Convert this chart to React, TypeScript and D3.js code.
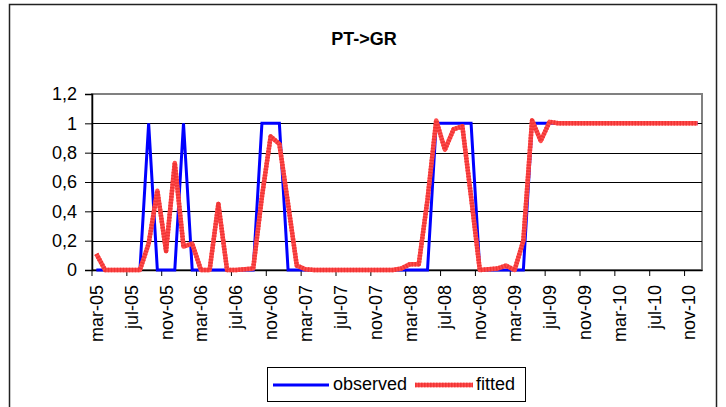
import { useEffect, useRef } from "react";
import * as d3 from "d3";

const W = 726;
const H = 407;
const PLOT = { left: 92, right: 702, top: 94, bottom: 270 };
const FONT = "'Liberation Sans', Arial, sans-serif";

const monthNames = ["jan", "feb", "mar", "apr", "may", "jun", "jul", "aug", "sep", "oct", "nov", "dec"];
const years = ["05", "06", "07", "08", "09", "10"];
// mar-05 .. dec-10
const months: string[] = years
  .flatMap((yy) => monthNames.map((m) => `${m}-${yy}`))
  .slice(2);

const observed = [
  0, 0, 0, 0, 0, 0, 1, 0, 0, 0,
  1, 0, 0, 0, 0, 0, 0, 0, 0, 1,
  1, 1, 0, 0, 0, 0, 0, 0, 0, 0,
  0, 0, 0, 0, 0, 0, 0, 0, 0, 1,
  1, 1, 1, 1, 0, 0, 0, 0, 0, 0,
  1, 1, 1, 1, 1, 1, 1, 1, 1, 1,
  1, 1, 1, 1, 1, 1, 1, 1, 1, 1,
];

const fitted = [
  0.11, 0, 0, 0, 0, 0, 0.18, 0.54, 0.13, 0.73,
  0.16, 0.18, 0, 0, 0.45, 0, 0, 0.005, 0.01, 0.5,
  0.91, 0.86, 0.45, 0.03, 0.005, 0, 0, 0, 0, 0,
  0, 0, 0, 0, 0, 0.01, 0.04, 0.04, 0.48, 1.02,
  0.82, 0.96, 0.98, 0.5, 0, 0.005, 0.01, 0.03, 0, 0.2,
  1.02, 0.88, 1.01, 1, 1, 1, 1, 1, 1, 1,
  1, 1, 1, 1, 1, 1, 1, 1, 1, 1,
];

const yTicks = [0, 0.2, 0.4, 0.6, 0.8, 1, 1.2];

const App = () => {
  const svgRef = useRef<SVGSVGElement | null>(null);

  useEffect(() => {
    const svg = d3.select(svgRef.current);
    svg.selectAll("*").remove();

    const x = d3.scaleBand().domain(months).range([PLOT.left, PLOT.right]);
    const y = d3.scaleLinear().domain([0, 1.2]).range([PLOT.bottom, PLOT.top]);
    const cx = (i: number) => (x(months[i]) as number) + x.bandwidth() / 2;

    // chart frame
    svg
      .append("rect")
      .attr("x", 9.5)
      .attr("y", 4.5)
      .attr("width", 707)
      .attr("height", 410)
      .attr("fill", "#fff")
      .attr("stroke", "#222")
      .attr("stroke-width", 1.5);

    svg
      .append("text")
      .attr("x", 364)
      .attr("y", 45)
      .attr("text-anchor", "middle")
      .attr("font-family", FONT)
      .attr("font-weight", "bold")
      .attr("font-size", 18)
      .text("PT->GR");

    // plot area border (grey top / right)
    svg
      .append("rect")
      .attr("x", PLOT.left)
      .attr("y", PLOT.top)
      .attr("width", PLOT.right - PLOT.left)
      .attr("height", PLOT.bottom - PLOT.top)
      .attr("fill", "none")
      .attr("stroke", "#808080")
      .attr("stroke-width", 2);

    // gridlines
    svg
      .append("g")
      .selectAll("line")
      .data(yTicks.filter((t) => t > 0 && t < 1.2))
      .join("line")
      .attr("x1", PLOT.left)
      .attr("x2", PLOT.right)
      .attr("y1", (d) => Math.round(y(d)) + 0.5)
      .attr("y2", (d) => Math.round(y(d)) + 0.5)
      .attr("stroke", "#000")
      .attr("stroke-width", 1);

    // y axis
    const yAxis = svg
      .append("g")
      .attr("transform", `translate(${PLOT.left},0)`)
      .call(
        d3
          .axisLeft(y)
          .tickValues(yTicks)
          .tickSize(7)
          .tickPadding(8)
          .tickFormat((d) => String(+d).replace(".", ","))
      );
    yAxis.select(".domain").attr("stroke", "#000").attr("stroke-width", 1.5);
    yAxis.selectAll(".tick line").attr("stroke", "#000");
    yAxis
      .selectAll("text")
      .attr("font-family", FONT)
      .attr("font-size", 18)
      .attr("fill", "#000");

    // x axis: labels every 4 months, tick marks at category boundaries
    const labelCats = months.filter((_, i) => i % 4 === 0);
    const xAxis = svg
      .append("g")
      .attr("transform", `translate(0,${PLOT.bottom})`)
      .call(d3.axisBottom(x).tickValues(labelCats).tickSize(0));
    xAxis.select(".domain").attr("stroke", "#000").attr("stroke-width", 1.5);
    xAxis
      .selectAll("text")
      .attr("transform", "rotate(-90)")
      .attr("x", -15)
      .attr("y", 0)
      .attr("dy", "0.36em")
      .attr("text-anchor", "end")
      .attr("font-family", FONT)
      .attr("font-size", 18)
      .attr("fill", "#000");
    svg
      .append("g")
      .selectAll("line")
      .data(labelCats)
      .join("line")
      .attr("x1", (d) => x(d) as number)
      .attr("x2", (d) => x(d) as number)
      .attr("y1", PLOT.bottom)
      .attr("y2", PLOT.bottom + 6)
      .attr("stroke", "#000");

    const line = d3
      .line<number>()
      .x((_, i) => cx(i))
      .y((d) => y(d));

    svg
      .append("path")
      .datum(observed)
      .attr("d", line)
      .attr("fill", "none")
      .attr("stroke", "#0000ff")
      .attr("stroke-width", 3);

    svg
      .append("path")
      .datum(fitted)
      .attr("d", line)
      .attr("fill", "none")
      .attr("stroke", "#ff4d4d")
      .attr("stroke-width", 4.5)
      .attr("stroke-linejoin", "round");
    svg
      .append("path")
      .datum(fitted)
      .attr("d", line)
      .attr("fill", "none")
      .attr("stroke", "#f03535")
      .attr("stroke-width", 4.5)
      .attr("stroke-dasharray", "1.5 1.5")
      .attr("stroke-linejoin", "round");

    // legend
    const lg = svg.append("g");
    lg.append("rect")
      .attr("x", 267.5)
      .attr("y", 367.5)
      .attr("width", 258)
      .attr("height", 34)
      .attr("fill", "#fff")
      .attr("stroke", "#000");
    lg.append("line")
      .attr("x1", 273)
      .attr("x2", 329)
      .attr("y1", 385)
      .attr("y2", 385)
      .attr("stroke", "#0000ff")
      .attr("stroke-width", 3);
    lg.append("text")
      .attr("x", 333)
      .attr("y", 390)
      .attr("font-family", FONT)
      .attr("font-size", 18)
      .text("observed");
    lg.append("line")
      .attr("x1", 415)
      .attr("x2", 473)
      .attr("y1", 385)
      .attr("y2", 385)
      .attr("stroke", "#ff4d4d")
      .attr("stroke-width", 4.5);
    lg.append("line")
      .attr("x1", 415)
      .attr("x2", 473)
      .attr("y1", 385)
      .attr("y2", 385)
      .attr("stroke", "#f03535")
      .attr("stroke-width", 4.5)
      .attr("stroke-dasharray", "1.5 1.5");
    lg.append("text")
      .attr("x", 476)
      .attr("y", 390)
      .attr("font-family", FONT)
      .attr("font-size", 18)
      .text("fitted");
  }, []);

  return (
    <svg
      ref={svgRef}
      width={W}
      height={H}
      style={{ position: "absolute", left: 0, top: 0, display: "block", background: "#fff" }}
    />
  );
};

export default App;
